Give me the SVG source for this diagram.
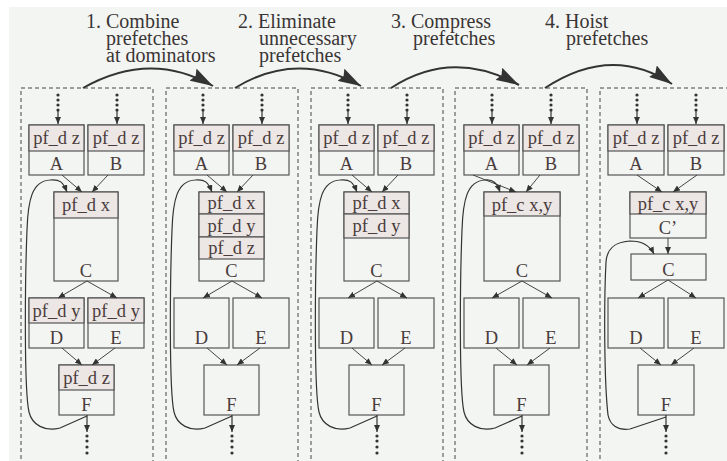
<svg xmlns="http://www.w3.org/2000/svg" width="727" height="461" viewBox="0 0 727 461">
<style>
.bg{fill:#f3f5f3}
.panel{fill:none;stroke:#444;stroke-width:1;stroke-dasharray:4 3}
.box{fill:none;stroke:#555;stroke-width:1.2}
.hdr{fill:#ece6e4;stroke:#555;stroke-width:1.2}
.t{font-size:18.5px;fill:#4a3c3c;text-anchor:middle}
.title{font-size:20px;fill:#3a3535}
.edge{fill:none;stroke:#444;stroke-width:1}
.loop{fill:none;stroke:#333;stroke-width:1.2}
.big{fill:none;stroke:#333;stroke-width:2}
.dot{fill:#333}
</style>
<defs>
<marker id="ah" markerUnits="userSpaceOnUse" markerWidth="8" markerHeight="6" refX="7" refY="3" orient="auto">
<path d="M0,0 L7,3 L0,6 z" fill="#333"/>
</marker>
<marker id="bigah" markerUnits="userSpaceOnUse" markerWidth="24" markerHeight="14" refX="23" refY="7" orient="auto">
<path d="M0,0 L23,7 L0,14 L3,7 z" fill="#333"/>
</marker>
<g id="dotsTop">
<circle class="dot" cx="0" cy="95" r="1.6"/>
<circle class="dot" cx="0" cy="100" r="1.6"/>
<circle class="dot" cx="0" cy="105" r="1.6"/>
<circle class="dot" cx="0" cy="110" r="1.6"/>
<line x1="0" y1="110" x2="0" y2="124" stroke="#333" stroke-width="1.2" marker-end="url(#ah)"/>
</g>
<g id="dotsBot">
<line x1="0" y1="415" x2="0" y2="432" stroke="#333" stroke-width="1.2" marker-end="url(#ah)"/>
<circle class="dot" cx="0" cy="436" r="1.6"/>
<circle class="dot" cx="0" cy="441" r="1.6"/>
<circle class="dot" cx="0" cy="447" r="1.6"/>
<circle class="dot" cx="0" cy="453" r="1.6"/>
</g>
</defs>
<rect class="bg" x="9" y="7" width="718" height="454"/>

<g font-family="'Liberation Serif', 'DejaVu Serif', serif">
<g id="titles">
<text class="title" x="86" y="28">1. Combine</text>
<text class="title" x="106" y="45">prefetches</text>
<text class="title" x="106" y="62">at dominators</text>
<text class="title" x="238" y="28">2. Eliminate</text>
<text class="title" x="259" y="45">unnecessary</text>
<text class="title" x="259" y="62">prefetches</text>
<text class="title" x="391" y="28">3. Compress</text>
<text class="title" x="413" y="45">prefetches</text>
<text class="title" x="545" y="28">4. Hoist</text>
<text class="title" x="566" y="45">prefetches</text>
</g>

<g id="panels">
<rect class="panel" x="21" y="88" width="132" height="400"/>
<rect class="panel" x="166" y="88" width="132" height="400"/>
<rect class="panel" x="311" y="88" width="132" height="400"/>
<rect class="panel" x="455" y="88" width="132" height="400"/>
<rect class="panel" x="600" y="88" width="132" height="400"/>
</g>

<g id="panel1">
<g id="p1-A"><rect class="box" x="29" y="125" width="55" height="50"/><rect class="hdr" x="29" y="125" width="55" height="26"/><text class="t" x="56.5" y="144">pf_d z</text><text class="t" x="56.5" y="170">A</text></g>
<g id="p1-B"><rect class="box" x="88" y="125" width="56" height="50"/><rect class="hdr" x="88" y="125" width="56" height="26"/><text class="t" x="116" y="144">pf_d z</text><text class="t" x="116" y="170">B</text></g>
<g id="p1-C"><rect class="box" x="54" y="192" width="64" height="89"/><rect class="hdr" x="54" y="192" width="64" height="26"/><text class="t" x="86" y="211">pf_d x</text><text class="t" x="86" y="277">C</text></g>
<g id="p1-D"><rect class="box" x="29" y="298" width="55" height="50"/><rect class="hdr" x="29" y="298" width="55" height="25"/><text class="t" x="56.5" y="317">pf_d y</text><text class="t" x="56.5" y="344">D</text></g>
<g id="p1-E"><rect class="box" x="88" y="298" width="56" height="50"/><rect class="hdr" x="88" y="298" width="56" height="25"/><text class="t" x="116" y="317">pf_d y</text><text class="t" x="116" y="344">E</text></g>
<g id="p1-F"><rect class="box" x="59" y="365" width="55" height="50"/><rect class="hdr" x="59" y="365" width="55" height="25"/><text class="t" x="86.5" y="384">pf_d z</text><text class="t" x="86.5" y="411">F</text></g>
</g>

<g id="panel2">
<g id="p2-A"><rect class="box" x="174" y="125" width="55" height="50"/><rect class="hdr" x="174" y="125" width="55" height="26"/><text class="t" x="201.5" y="144">pf_d z</text><text class="t" x="201.5" y="170">A</text></g>
<g id="p2-B"><rect class="box" x="233" y="125" width="56" height="50"/><rect class="hdr" x="233" y="125" width="56" height="26"/><text class="t" x="261" y="144">pf_d z</text><text class="t" x="261" y="170">B</text></g>
<g id="p2-C"><rect class="box" x="199" y="192" width="65" height="89"/><rect class="hdr" x="199" y="192" width="65" height="22"/><rect class="hdr" x="199" y="214" width="65" height="23"/><rect class="hdr" x="199" y="237" width="65" height="22"/><text class="t" x="231.5" y="209">pf_d x</text><text class="t" x="231.5" y="232">pf_d y</text><text class="t" x="231.5" y="254">pf_d z</text><text class="t" x="231.5" y="277">C</text></g>
<g id="p2-D"><rect class="box" x="174" y="298" width="55" height="50"/><text class="t" x="201.5" y="344">D</text></g>
<g id="p2-E"><rect class="box" x="233" y="298" width="56" height="50"/><text class="t" x="261" y="344">E</text></g>
<g id="p2-F"><rect class="box" x="204" y="365" width="55" height="50"/><text class="t" x="231.5" y="411">F</text></g>
</g>

<g id="panel3">
<g id="p3-A"><rect class="box" x="319" y="125" width="55" height="50"/><rect class="hdr" x="319" y="125" width="55" height="26"/><text class="t" x="346.5" y="144">pf_d z</text><text class="t" x="346.5" y="170">A</text></g>
<g id="p3-B"><rect class="box" x="378" y="125" width="56" height="50"/><rect class="hdr" x="378" y="125" width="56" height="26"/><text class="t" x="406" y="144">pf_d z</text><text class="t" x="406" y="170">B</text></g>
<g id="p3-C"><rect class="box" x="344" y="192" width="65" height="89"/><rect class="hdr" x="344" y="192" width="65" height="22"/><rect class="hdr" x="344" y="214" width="65" height="24"/><text class="t" x="376.5" y="209">pf_d x</text><text class="t" x="376.5" y="232">pf_d y</text><text class="t" x="376.5" y="277">C</text></g>
<g id="p3-D"><rect class="box" x="319" y="298" width="55" height="50"/><text class="t" x="346.5" y="344">D</text></g>
<g id="p3-E"><rect class="box" x="378" y="298" width="56" height="50"/><text class="t" x="406" y="344">E</text></g>
<g id="p3-F"><rect class="box" x="349" y="365" width="55" height="50"/><text class="t" x="376.5" y="411">F</text></g>
</g>

<g id="panel4">
<g id="p4-A"><rect class="box" x="464" y="125" width="55" height="50"/><rect class="hdr" x="464" y="125" width="55" height="26"/><text class="t" x="491.5" y="144">pf_d z</text><text class="t" x="491.5" y="170">A</text></g>
<g id="p4-B"><rect class="box" x="523" y="125" width="56" height="50"/><rect class="hdr" x="523" y="125" width="56" height="26"/><text class="t" x="551" y="144">pf_d z</text><text class="t" x="551" y="170">B</text></g>
<g id="p4-C"><rect class="box" x="484" y="192" width="76" height="89"/><rect class="hdr" x="484" y="192" width="76" height="24"/><text class="t" x="522" y="211">pf_c x,y</text><text class="t" x="522" y="277">C</text></g>
<g id="p4-D"><rect class="box" x="464" y="298" width="55" height="50"/><text class="t" x="491.5" y="344">D</text></g>
<g id="p4-E"><rect class="box" x="523" y="298" width="56" height="50"/><text class="t" x="551" y="344">E</text></g>
<g id="p4-F"><rect class="box" x="494" y="365" width="55" height="50"/><text class="t" x="521.5" y="411">F</text></g>
</g>

<g id="panel5">
<g id="p5-A"><rect class="box" x="608" y="125" width="56" height="50"/><rect class="hdr" x="608" y="125" width="56" height="26"/><text class="t" x="636" y="144">pf_d z</text><text class="t" x="636" y="170">A</text></g>
<g id="p5-B"><rect class="box" x="668" y="125" width="56" height="50"/><rect class="hdr" x="668" y="125" width="56" height="26"/><text class="t" x="696" y="144">pf_d z</text><text class="t" x="696" y="170">B</text></g>
<g id="p5-C2"><rect class="box" x="630" y="192" width="76" height="46"/><rect class="hdr" x="630" y="192" width="76" height="22"/><text class="t" x="668" y="210">pf_c x,y</text><text class="t" x="668" y="234">C’</text></g>
<g id="p5-C"><rect class="box" x="631" y="254" width="75" height="26"/><text class="t" x="668.5" y="276">C</text></g>
<g id="p5-D"><rect class="box" x="608" y="298" width="56" height="50"/><text class="t" x="636" y="344">D</text></g>
<g id="p5-E"><rect class="box" x="668" y="298" width="56" height="50"/><text class="t" x="696" y="344">E</text></g>
<g id="p5-F"><rect class="box" x="638" y="365" width="56" height="50"/><text class="t" x="666" y="411">F</text></g>
</g>
</g>

<g id="connectors">
<path class="big" d="M83,88 Q150,50 213,86" marker-end="url(#bigah)"/>
<path class="big" d="M235,88 Q297,50 361,86" marker-end="url(#bigah)"/>
<path class="big" d="M391,88 Q452,48 519,85" marker-end="url(#bigah)"/>
<path class="big" d="M545,88 Q612,44 672,84" marker-end="url(#bigah)"/>

<use href="#dotsTop" x="58"/><use href="#dotsTop" x="117"/>
<use href="#dotsTop" x="203"/><use href="#dotsTop" x="262"/>
<use href="#dotsTop" x="348"/><use href="#dotsTop" x="407"/>
<use href="#dotsTop" x="492"/><use href="#dotsTop" x="551"/>
<use href="#dotsTop" x="637"/><use href="#dotsTop" x="696"/>
<use href="#dotsBot" x="87"/>
<use href="#dotsBot" x="232"/>
<use href="#dotsBot" x="377"/>
<use href="#dotsBot" x="522"/>
<use href="#dotsBot" x="666"/>

<line class="edge" x1="62" y1="175" x2="82" y2="192" marker-end="url(#ah)"/>
<line class="edge" x1="108" y1="175" x2="92" y2="192" marker-end="url(#ah)"/>
<line class="edge" x1="87" y1="281" x2="58" y2="298" marker-end="url(#ah)"/>
<line class="edge" x1="87" y1="281" x2="117" y2="298" marker-end="url(#ah)"/>
<line class="edge" x1="62" y1="348" x2="82" y2="365" marker-end="url(#ah)"/>
<line class="edge" x1="115" y1="348" x2="92" y2="365" marker-end="url(#ah)"/>
<path class="loop" d="M87,416 L60,428 C45,432 32,425 29,412 C24,390 25,280 27,230 C28,200 32,181 50,180 C60,179 63,182 67,192" marker-end="url(#ah)"/>

<line class="edge" x1="207" y1="175" x2="227" y2="192" marker-end="url(#ah)"/>
<line class="edge" x1="253" y1="175" x2="237" y2="192" marker-end="url(#ah)"/>
<line class="edge" x1="232" y1="281" x2="203" y2="298" marker-end="url(#ah)"/>
<line class="edge" x1="232" y1="281" x2="262" y2="298" marker-end="url(#ah)"/>
<line class="edge" x1="207" y1="348" x2="227" y2="365" marker-end="url(#ah)"/>
<line class="edge" x1="260" y1="348" x2="237" y2="365" marker-end="url(#ah)"/>
<path class="loop" d="M232,416 L205,428 C190,432 177,425 174,412 C169,390 170,280 172,230 C173,200 177,181 195,180 C205,179 208,182 212,192" marker-end="url(#ah)"/>

<line class="edge" x1="352" y1="175" x2="372" y2="192" marker-end="url(#ah)"/>
<line class="edge" x1="398" y1="175" x2="382" y2="192" marker-end="url(#ah)"/>
<line class="edge" x1="377" y1="281" x2="348" y2="298" marker-end="url(#ah)"/>
<line class="edge" x1="377" y1="281" x2="407" y2="298" marker-end="url(#ah)"/>
<line class="edge" x1="352" y1="348" x2="372" y2="365" marker-end="url(#ah)"/>
<line class="edge" x1="405" y1="348" x2="382" y2="365" marker-end="url(#ah)"/>
<path class="loop" d="M377,416 L350,428 C335,432 322,425 319,412 C314,390 315,280 317,230 C318,200 322,181 340,180 C350,179 353,182 357,192" marker-end="url(#ah)"/>

<line class="edge" x1="473" y1="175" x2="516" y2="192" marker-end="url(#ah)"/>
<line class="edge" x1="540" y1="175" x2="526" y2="192" marker-end="url(#ah)"/>
<line class="edge" x1="522" y1="281" x2="492" y2="298" marker-end="url(#ah)"/>
<line class="edge" x1="522" y1="281" x2="552" y2="298" marker-end="url(#ah)"/>
<line class="edge" x1="496" y1="348" x2="517" y2="365" marker-end="url(#ah)"/>
<line class="edge" x1="550" y1="348" x2="527" y2="365" marker-end="url(#ah)"/>
<path class="loop" d="M522,416 L495,428 C480,432 467,425 464,412 C459,390 460,280 462,230 C463,200 467,181 485,180 C493,179 497,183 500,192" marker-end="url(#ah)"/>

<line class="edge" x1="637" y1="175" x2="662" y2="192" marker-end="url(#ah)"/>
<line class="edge" x1="697" y1="175" x2="673" y2="192" marker-end="url(#ah)"/>
<line class="edge" x1="668" y1="238" x2="668" y2="254" marker-end="url(#ah)"/>
<line class="edge" x1="668" y1="280" x2="638" y2="298" marker-end="url(#ah)"/>
<line class="edge" x1="668" y1="280" x2="696" y2="298" marker-end="url(#ah)"/>
<line class="edge" x1="640" y1="348" x2="661" y2="365" marker-end="url(#ah)"/>
<line class="edge" x1="694" y1="348" x2="671" y2="365" marker-end="url(#ah)"/>
<path class="loop" d="M666,417 L630,429 C618,431 610,425 608,415 C604,380 604,300 606,262 C607,248 615,242 630,241 C642,241 650,246 654,254" marker-end="url(#ah)"/>
</g>
</svg>
